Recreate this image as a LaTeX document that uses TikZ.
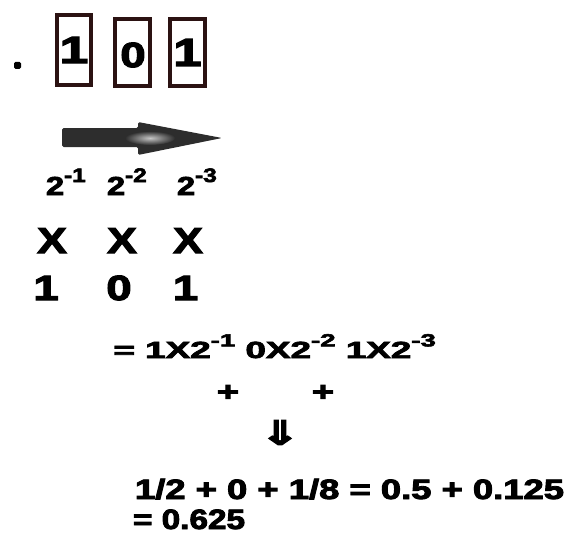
\documentclass[tikz,border=0pt]{standalone}
\usepackage{fontspec}
\setmainfont{Liberation Sans}[BoldFeatures={FakeBold=3}]
\newfontfamily\arrfont{DejaVu Sans}[BoldFeatures={FakeBold=3}]
\usepackage{graphicx}
\definecolor{boxbrown}{HTML}{2B1212}
\definecolor{arrgray}{HTML}{2D2D2D}
\newcommand\hs[3]{\fontsize{#1}{#1}\selectfont\bfseries\scalebox{#2}[1]{#3}}
\newcommand\pw[1]{\raisebox{0.5em}{\scalebox{0.75}{-#1}}}
\tikzset{
  txt/.style={inner sep=0pt, outer sep=0pt, text=black},
  digbox/.style={draw=boxbrown, line width=4pt},
}
\begin{document}
\begin{tikzpicture}[x=1pt,y=1pt]
\useasboundingbox (0,0) rectangle (572,550);
% dot
\fill[black, rounded corners=1.5pt] (14,481) rectangle (21,488);
% boxes
\draw[digbox] (57,465) rectangle (91,535);
\draw[digbox] (115,464) rectangle (150,531);
\draw[digbox] (170,464) rectangle (205,531);
\node[txt] (d1) at (74,500) {\hs{38}{1.35}{1}};
\node[txt] (d2) at (133,495) {\hs{35}{1.3}{0}};
\node[txt] (d3) at (187.5,497.5) {\hs{39}{1.3}{1}};
% arrow
\fill[arrgray, rounded corners=1.5pt] (62,403) -- (62,422) -- (138,422) -- (138,428) -- (222,412) -- (138,395) -- (138,403) -- cycle;
\shade[inner color=gray!45, outer color=arrgray] (150,412) ellipse [x radius=25, y radius=7];
% powers
\node[txt, anchor=base west] (p1) at (46,355) {\hs{26}{1.25}{2\pw{1}}};
\node[txt, anchor=base west] (p2) at (107,355) {\hs{26}{1.25}{2\pw{2}}};
\node[txt, anchor=base west] (p3) at (177,355) {\hs{26}{1.25}{2\pw{3}}};
% X row
\node[txt, anchor=base] (x1) at (52,297) {\hs{36}{1.23}{X}};
\node[txt, anchor=base] (x2) at (122,297) {\hs{36}{1.23}{X}};
\node[txt, anchor=base] (x3) at (188,297) {\hs{36}{1.23}{X}};
% digits row
\node[txt, anchor=base] (b1) at (46,250) {\hs{35}{1.3}{1}};
\node[txt, anchor=base] (b2) at (119,250) {\hs{35}{1.3}{0}};
\node[txt, anchor=base] (b3) at (185.5,250) {\hs{35}{1.3}{1}};
% equation
\node[txt, anchor=base west] (eq) at (113.5,192) {\hs{23.3}{1.58}{= 1X2\pw{1} 0X2\pw{2} 1X2\pw{3}}};
\node[txt] (pl1) at (228,157) {\hs{27}{1.4}{+}};
\node[txt] (pl2) at (323,157) {\hs{27}{1.4}{+}};
\node[txt] (dn) at (280,117.5) {\fontsize{34}{34}\selectfont\arrfont\bfseries\scalebox{1.45}[1]{⇓}};
% result
\node[txt, anchor=base west] (r1) at (135,51) {\hs{28}{1.3}{1/2 + 0 + 1/8 = 0.5 + 0.125}};
\node[txt, anchor=base west] (r2) at (133,21) {\hs{28}{1.19}{= 0.625}};
\end{tikzpicture}
\end{document}
